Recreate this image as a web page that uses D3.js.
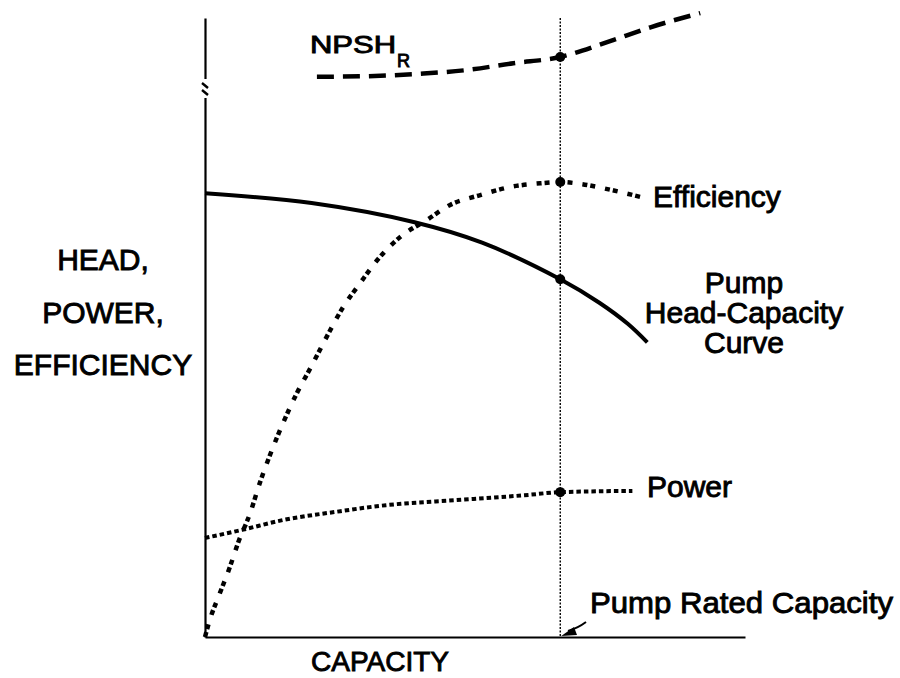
<!DOCTYPE html>
<html>
<head>
<meta charset="utf-8">
<script src="https://cdn.jsdelivr.net/npm/d3@7"></script>
<style>
  body { margin: 0; background: #fff; }
  text { font-family: "Liberation Sans", Arial, Helvetica, sans-serif; fill: #000; stroke: #000; stroke-width: 0.9; }
  .axis path { stroke: #000; stroke-width: 2.2; }
</style>
</head>
<body>
<div id="vis_container"></div>
<script>
// capacity (rated = 100) and curve values
var headQ = [0, 30, 59, 78, 100, 111, 119, 124.5];
var headH = [71.7, 70.1, 67.0, 63.7, 57.8, 54.0, 50.6, 47.6];

var effQ = [0, 1.1, 4.2, 7.0, 9.3, 12.7, 15.5, 18.3, 22.0, 25.6, 30.1, 33.8, 38.9, 43.7, 48.5, 54.9, 62.5, 69.0, 77.5, 85.9, 94.4, 100, 105.6, 112.1, 122.5];
var effE = [0, 2.3, 7.1, 11.3, 15.2, 20.0, 25.0, 29.4, 34.6, 39.1, 43.9, 48.0, 53.3, 57.2, 60.9, 64.6, 67.4, 69.8, 71.4, 72.7, 73.3, 73.5, 73.2, 72.5, 71.1];

var powQ = [0, 10.4, 22.0, 36.6, 51.0, 70.4, 89.9, 100, 120.3];
var powP = [16.0, 17.3, 18.9, 20.2, 21.3, 22.1, 22.9, 23.4, 23.6];

var npshQ = [31.5, 45.6, 60.6, 73.8, 86.8, 100, 113.2, 125.4, 139.4];
var npshN = [90.5, 90.6, 91.0, 91.6, 92.7, 93.7, 96.1, 98.5, 100.8];

var ratedQ = 100;
var yLabels = ["HEAD,", "POWER,", "EFFICIENCY"];
var headLabel = ["Pump", "Head-Capacity", "Curve"];

var width = 900;
var height = 678;

var x = d3.scaleLinear().domain([0, 152]).range([205, 745]);
var y = d3.scaleLinear().domain([0, 100]).range([637, 18]);

var svg = d3.select("#vis_container").append("svg")
    .attr("width", width)
    .attr("height", height);

function pts(qs, vs) {
    return qs.map(function(q, i) { return [q, vs[i]]; });
}

var line = d3.line()
    .x(function(d) { return x(d[0]); })
    .y(function(d) { return y(d[1]); })
    .curve(d3.curveMonotoneX);

var smooth = d3.line()
    .x(function(d) { return x(d[0]); })
    .y(function(d) { return y(d[1]); })
    .curve(d3.curveCatmullRom.alpha(0.5));

// axes, no ticks
svg.append("g")
    .attr("class", "axis")
    .attr("transform", "translate(0," + y(0) + ")")
    .call(d3.axisBottom(x).tickValues([]).tickSizeOuter(0));

svg.append("g")
    .attr("class", "axis")
    .attr("transform", "translate(" + x(0) + ",0)")
    .call(d3.axisLeft(y).tickValues([]).tickSizeOuter(0));

// axis break
svg.append("rect")
    .attr("x", x(0) - 4).attr("y", 79)
    .attr("width", 8).attr("height", 19)
    .style("fill", "#fff");
[83, 90].forEach(function(yy) {
    svg.append("line")
        .attr("x1", x(0) - 3).attr("y1", yy)
        .attr("x2", x(0) + 3).attr("y2", yy + 5)
        .style("stroke", "#000").style("stroke-width", 2.4);
});

// rated capacity line
svg.append("line")
    .attr("x1", x(ratedQ)).attr("x2", x(ratedQ))
    .attr("y1", y(100)).attr("y2", y(0))
    .style("stroke", "#000")
    .style("stroke-width", 1.4)
    .style("stroke-dasharray", "2,1.5");

// curves
svg.append("path")
    .datum(pts(npshQ, npshN))
    .attr("d", line)
    .style("fill", "none").style("stroke", "#000")
    .style("stroke-width", 4.5)
    .style("stroke-dasharray", "17,9");

svg.append("path")
    .datum(pts(effQ, effE))
    .attr("d", line)
    .style("fill", "none").style("stroke", "#000")
    .style("stroke-width", 4.5)
    .style("stroke-dasharray", "5,3,5,10");

svg.append("path")
    .datum(pts(powQ, powP))
    .attr("d", line)
    .style("fill", "none").style("stroke", "#000")
    .style("stroke-width", 4)
    .style("stroke-dasharray", "4.5,3");

svg.append("path")
    .datum(pts(headQ, headH))
    .attr("d", smooth)
    .style("fill", "none").style("stroke", "#000")
    .style("stroke-width", 4);

// dots where the curves meet the rated capacity
var ratedVals = [
    npshN[npshQ.indexOf(ratedQ)],
    effE[effQ.indexOf(ratedQ)],
    headH[headQ.indexOf(ratedQ)],
    powP[powQ.indexOf(ratedQ)]
];
svg.selectAll(".rated-dot").data(ratedVals).enter().append("circle")
    .attr("class", "rated-dot")
    .attr("cx", x(ratedQ))
    .attr("cy", function(d) { return y(d); })
    .attr("r", 5)
    .style("fill", "#000");

// labels
var npsh = svg.append("text")
    .attr("x", 310).attr("y", 53)
    .style("font-size", "24px");
npsh.append("tspan").text("NPSH")
    .attr("textLength", 86).attr("lengthAdjust", "spacingAndGlyphs");
npsh.append("tspan").text("R")
    .attr("x", 397).attr("y", 67)
    .style("font-size", "18px");

svg.append("text")
    .attr("x", 653).attr("y", 207)
    .style("font-size", "30px")
    .text("Efficiency");

svg.selectAll(".head-label").data(headLabel).enter().append("text")
    .attr("class", "head-label")
    .attr("x", 744)
    .attr("y", function(d, i) { return 293 + i * 30; })
    .style("font-size", "30px")
    .style("text-anchor", "middle")
    .text(function(d) { return d; });

svg.append("text")
    .attr("x", 647).attr("y", 497)
    .style("font-size", "30px")
    .text("Power");

svg.append("text")
    .attr("x", 590).attr("y", 613)
    .style("font-size", "30px")
    .attr("textLength", 303).attr("lengthAdjust", "spacingAndGlyphs")
    .text("Pump Rated Capacity");

svg.selectAll(".y-label").data(yLabels).enter().append("text")
    .attr("class", "y-label")
    .attr("x", 103)
    .attr("y", function(d, i) { return 270 + i * 52.5; })
    .style("font-size", "30px")
    .style("text-anchor", "middle")
    .text(function(d) { return d; });

svg.append("text")
    .attr("x", 380).attr("y", 671)
    .style("font-size", "28px")
    .style("text-anchor", "middle")
    .text("CAPACITY");

// arrow to rated capacity on the axis
svg.append("path")
    .attr("d", "M586,622 Q578,628 568,631")
    .style("fill", "none").style("stroke", "#000").style("stroke-width", 2);
svg.append("path")
    .attr("d", "M" + (x(ratedQ) + 1) + "," + (y(0) - 1) + " L574,627 L577,635 Z")
    .style("fill", "#000");
</script>
</body>
</html>
